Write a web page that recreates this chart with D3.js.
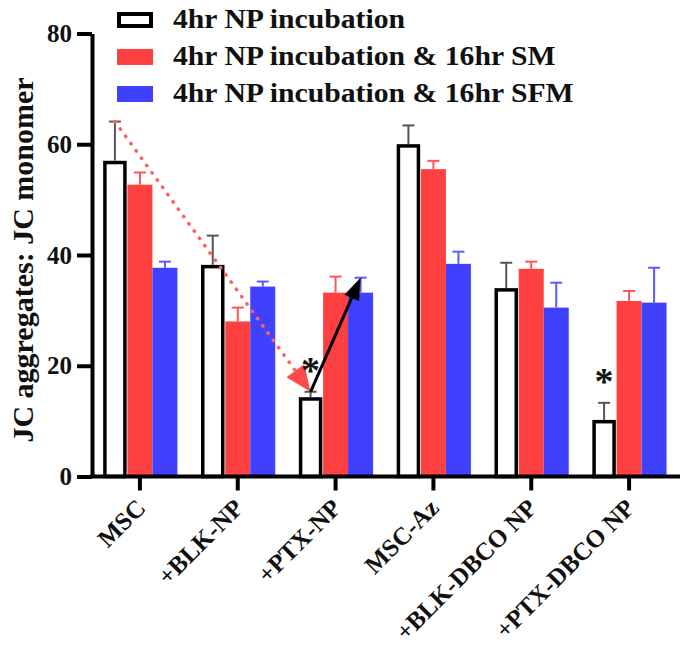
<!DOCTYPE html>
<html>
<head>
<meta charset="utf-8">
<script src="https://cdn.jsdelivr.net/npm/d3@7"></script>
<style>
  html, body { margin: 0; padding: 0; background: #fff; }
  svg { display: block; }
  text { font-family: "Liberation Serif", "Times New Roman", serif; font-weight: bold; fill: #111; }
</style>
</head>
<body>
<svg id="chart" width="688" height="650"></svg>
<script>
// ---- data ----
const categories = ["MSC", "+BLK-NP", "+PTX-NP", "MSC-Az", "+BLK-DBCO NP", "+PTX-DBCO NP"];
const seriesNames = ["4hr NP incubation", "4hr NP incubation & 16hr SM", "4hr NP incubation & 16hr SFM"];
const np4Values   = [56.7, 37.9, 14.0, 59.7, 33.7, 9.9];
const np4Errors   = [7.4, 5.6, 1.3, 3.7, 4.9, 3.4];
const smValues    = [52.7, 28.0, 33.2, 55.5, 37.5, 31.7];
const smErrors    = [2.2, 2.5, 2.9, 1.5, 1.3, 1.8];
const sfmValues   = [37.7, 34.3, 33.2, 38.4, 30.5, 31.4];
const sfmErrors   = [1.1, 0.9, 2.7, 2.2, 4.5, 6.3];
const yTicks      = [0, 20, 40, 60, 80];
const significant = ["+PTX-NP", "+PTX-DBCO NP"];
const yLabel = "JC aggregates: JC monomer";

// ---- layout ----
const svg = d3.select("#chart");
const axisX = 92, axisRight = 680;
const y = d3.scaleLinear().domain([0, 80]).range([476.5, 33.5]);
const x0 = d3.scaleBand().domain(categories).range([91, 678]).padding(0);
const groupW = 75;
const x1 = d3.scaleBand().domain(seriesNames).range([0, groupW]).padding(0);
const bw = x1.bandwidth();
const groupStart = c => x0(c) + x0.bandwidth() / 2 - groupW / 2;

const fills = ["#ffffff", "#ff4040", "#4040ff"];
const errColors = ["#555555", "#ff5555", "#5a5aff"];

const table = seriesNames.map((s, si) => ({
  name: s, si,
  values: categories.map((c, ci) => ({
    c, v: [np4Values, smValues, sfmValues][si][ci], e: [np4Errors, smErrors, sfmErrors][si][ci]
  }))
}));

// ---- bars ----
const gBars = svg.append("g");
table.forEach(s => {
  const g = gBars.append("g");
  g.selectAll("rect").data(s.values).join("rect")
    .attr("x", d => groupStart(d.c) + x1(s.name) + (s.si === 0 ? 2.5 : 0))
    .attr("width", s.si === 0 ? bw - 5 : bw)
    .attr("y", d => y(d.v))
    .attr("height", d => y(0) - y(d.v))
    .attr("fill", fills[s.si])
    .attr("stroke", s.si === 0 ? "#000" : "none")
    .attr("stroke-width", 3.5);
  // error bars (upward only)
  const eg = g.append("g").attr("stroke", errColors[s.si]).attr("stroke-width", 2);
  s.values.forEach(d => {
    const cx = groupStart(d.c) + x1(s.name) + bw / 2;
    eg.append("line").attr("x1", cx).attr("x2", cx).attr("y1", y(d.v) - (s.si === 0 ? 1.75 : 0)).attr("y2", y(d.v + d.e));
    eg.append("line").attr("x1", cx - 6).attr("x2", cx + 6).attr("y1", y(d.v + d.e)).attr("y2", y(d.v + d.e));
  });
});

// ---- axes ----
const yAxis = svg.append("g").attr("transform", `translate(${axisX},0)`)
  .call(d3.axisLeft(y).tickValues(yTicks).tickSize(15).tickSizeOuter(0).tickPadding(5));
yAxis.select(".domain").attr("stroke", "#000").attr("stroke-width", 4);
yAxis.selectAll(".tick line").attr("stroke", "#000").attr("stroke-width", 4);
yAxis.selectAll(".tick text").attr("font-size", 25).attr("fill", "#111")
  .attr("font-family", "Liberation Serif").attr("font-weight", "bold");

const xAxis = svg.append("g").attr("transform", `translate(0,${y(0)})`)
  .call(d3.axisBottom(x0).tickSize(14).tickSizeOuter(0));
xAxis.select(".domain").remove();
xAxis.append("line").attr("x1", axisX - 2).attr("x2", axisRight).attr("stroke", "#000").attr("stroke-width", 4);
xAxis.selectAll(".tick line").attr("stroke", "#000").attr("stroke-width", 4);
xAxis.selectAll(".tick text")
  .attr("font-size", 25).attr("fill", "#111")
  .attr("font-family", "Liberation Serif").attr("font-weight", "bold")
  .attr("text-anchor", "end")
  .attr("dy", null).attr("y", 0)
  .attr("transform", "translate(7,33) rotate(-45)");

// y label
svg.append("text")
  .attr("transform", `translate(33,260) rotate(-90)`)
  .attr("text-anchor", "middle")
  .attr("font-size", 30)
  .text(yLabel);

// ---- legend ----
const leg = svg.append("g");
seriesNames.forEach((s, i) => {
  const ly = 12 + i * 37;
  leg.append("rect")
    .attr("x", i === 0 ? 119 : 117).attr("y", i === 0 ? ly + 2 : ly)
    .attr("width", i === 0 ? 32 : 36).attr("height", i === 0 ? 12 : 16)
    .attr("fill", fills[i]).attr("stroke", i === 0 ? "#000" : "none").attr("stroke-width", 4);
  leg.append("text").attr("transform", `translate(173,${ly + 16}) scale(1.1,1)`)
    .attr("font-size", 27).text(s);
});

// ---- annotations ----
const whiteTop = c => {
  const i = categories.indexOf(c);
  return [groupStart(c) + x1(seriesNames[0]) + bw / 2, y(np4Values[i] + np4Errors[i])];
};
const blueTop = c => {
  const i = categories.indexOf(c);
  return [groupStart(c) + x1(seriesNames[2]) + bw / 2, y(sfmValues[i] + sfmErrors[i])];
};

function arrowHead(g, from, to, len, wid, color) {
  const dx = to[0] - from[0], dy = to[1] - from[1];
  const L = Math.hypot(dx, dy), ux = dx / L, uy = dy / L;
  const bx = to[0] - ux * len, by = to[1] - uy * len;
  const px = -uy * wid / 2, py = ux * wid / 2;
  g.append("path").attr("d", `M${to[0]},${to[1]}L${bx + px},${by + py}L${bx - px},${by - py}Z`).attr("fill", color);
  return [bx, by];
}

const ann = svg.append("g");
// red dotted arrow
{
  const a = whiteTop("MSC"), b = whiteTop("+PTX-NP");
  const base = arrowHead(ann, a, b, 26, 22, "#ff4a4a");
  ann.append("line").attr("x1", a[0]).attr("y1", a[1]).attr("x2", base[0]).attr("y2", base[1])
    .attr("stroke", "#ff6060").attr("stroke-width", 3.5).attr("stroke-linecap", "round")
    .attr("stroke-dasharray", "0.5,8.5");
}
// black solid arrow
{
  const a = whiteTop("+PTX-NP"), b = blueTop("+PTX-NP");
  const base = arrowHead(ann, a, b, 22, 16, "#000");
  ann.append("line").attr("x1", a[0]).attr("y1", a[1]).attr("x2", base[0]).attr("y2", base[1])
    .attr("stroke", "#000").attr("stroke-width", 3);
}
// asterisks
significant.forEach(c => {
  const t = whiteTop(c);
  ann.append("text").attr("x", t[0]).attr("y", t[1] - 27 + 18).attr("text-anchor", "middle")
    .attr("font-size", 38).attr("fill", "#000").text("*");
});
</script>
</body>
</html>
